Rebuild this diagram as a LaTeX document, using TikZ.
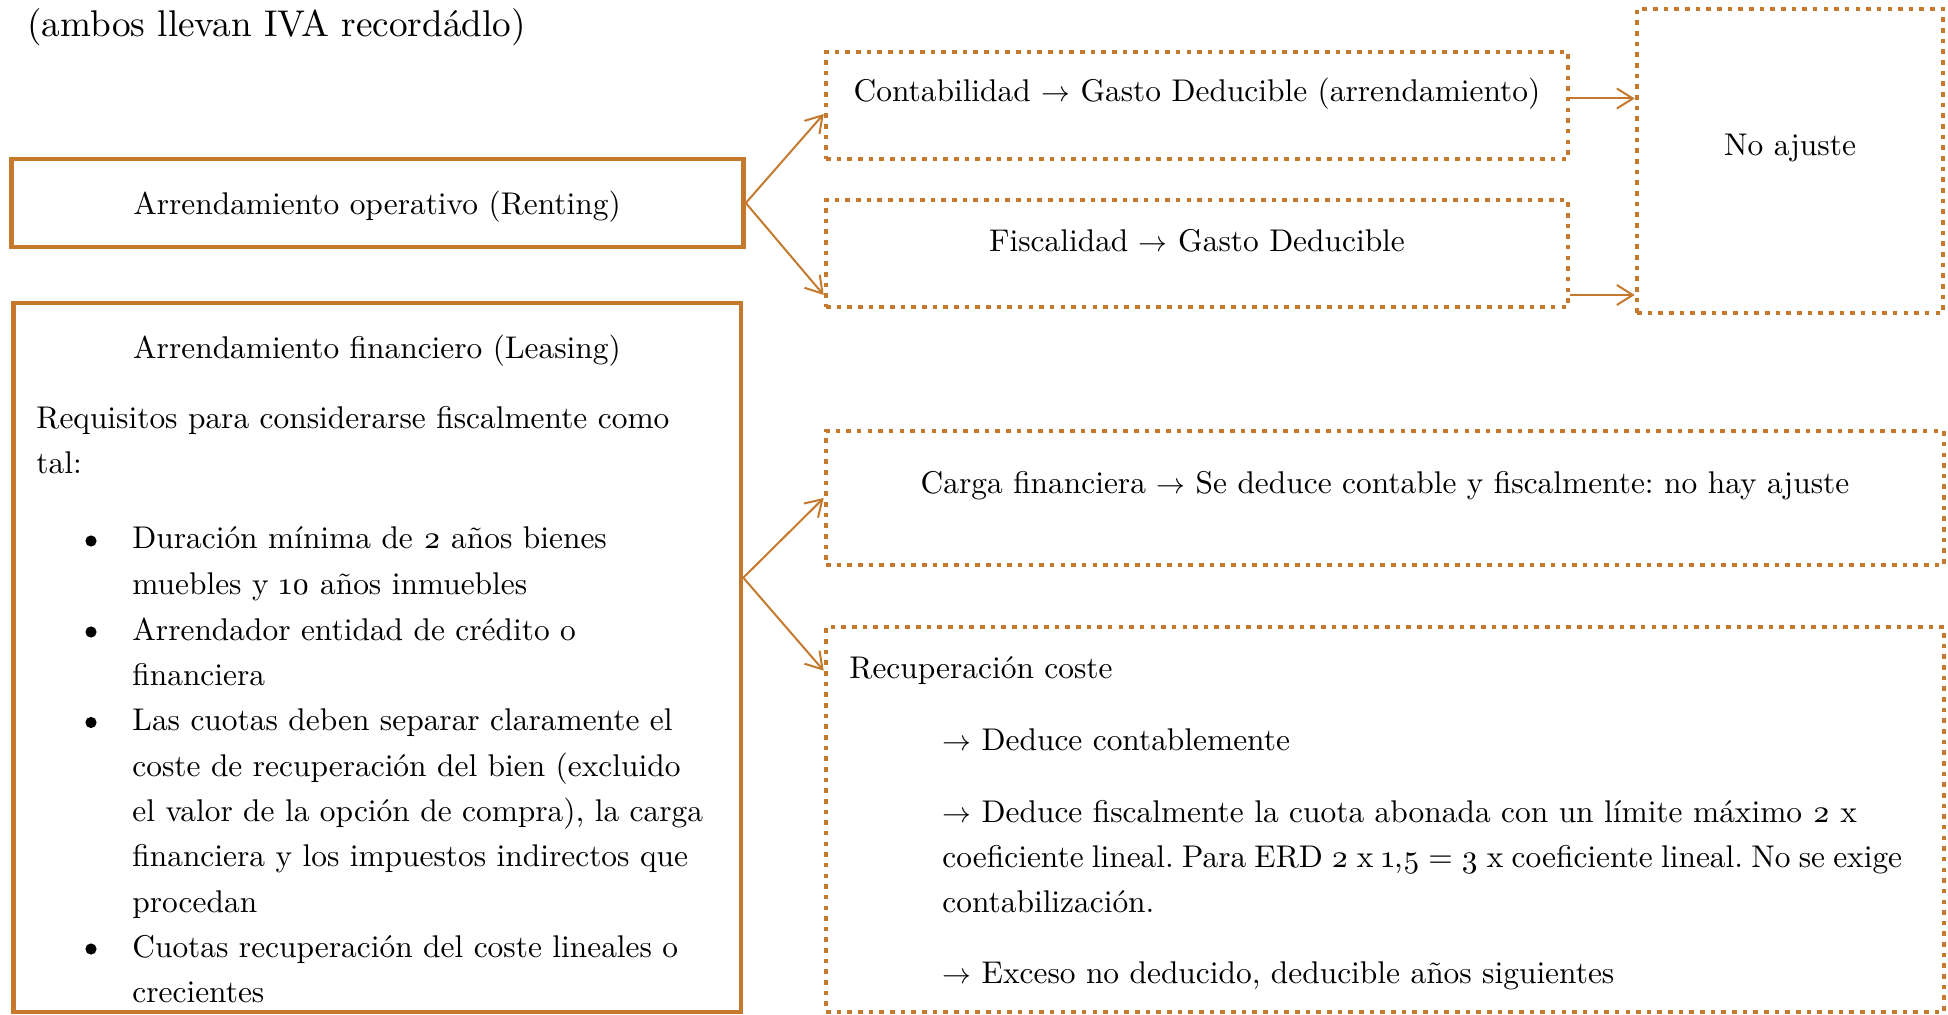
\documentclass[tikz,border=0pt]{standalone}
\usepackage{fontspec}
\setmainfont{lmroman10-regular.otf}[BoldFont=lmroman10-bold.otf, ItalicFont=lmroman10-italic.otf, Numbers=OldStyle]
\usetikzlibrary{arrows.meta,calc,fit}
\definecolor{accent}{RGB}{196,121,45}
\newcommand{\txtsize}{\fontsize{15.7}{22.7}\selectfont}
\newcommand{\headsize}{\fontsize{18.6}{22}\selectfont}
\newcommand{\tightspaces}{\spaceskip=4.1pt plus 1pt minus 1pt\relax}
\tikzset{
  solidbox/.style={draw=accent, line width=2.3pt, inner sep=0pt},
  dotbox/.style={draw=accent, line width=2.3pt, dash pattern=on 2.3pt off 3.03pt, inner sep=0pt},
  link/.style={draw=accent, line width=1pt, -{Straight Barb[length=8pt,width=10pt]}},
  txt/.style={inner sep=0pt, font=\txtsize, text=black},
  lft/.style={txt, anchor=base west},
  ctr/.style={txt, anchor=base},
  dot/.style={circle, fill=black, inner sep=0pt, minimum size=5.6pt},
}
\begin{document}
\frenchspacing
\begin{tikzpicture}[x=0.5pt,y=-0.5pt]
\useasboundingbox (0,0) rectangle (1948,1015);

% frames
\node[solidbox, fit={(11.5,159) (743.5,247)}] (rent) {};
\node[solidbox, fit={(13.5,303) (741,1012)}] (leas) {};
\node[dotbox, fit={(826,52) (1568,159)}] (cont) {};
\node[dotbox, fit={(826,200) (1568,307)}] (fisc) {};
\node[dotbox, fit={(1637,9) (1943,313)}] (noaj) {};
\node[dotbox, fit={(826,431) (1944,565)}] (carga) {};
\node[dotbox, fit={(826,627) (1944,1012)}] (recup) {};

% heading
\node[lft, font=\headsize] (title) at (27,37) {(ambos llevan IVA recordádlo)};

% operating lease
\node[ctr] (rentT) at (377,215) {Arrendamiento operativo (Renting)};

% finance lease
\node[ctr] (leasT) at (377,359) {Arrendamiento financiero (Leasing)};
\node[lft] (req1) at (36,429) {Requisitos para considerarse fiscalmente como};
\node[lft] (req2) at (36,474) {tal:};
\node[dot] (b1) at (91,541) {};
\node[dot] (b2) at (91,632) {};
\node[dot] (b3) at (91,722.5) {};
\node[dot] (b4) at (91,949) {};
\node[lft] (l1) at (132,549) {Duración mínima de 2 años bienes};
\node[lft] (l2) at (132,594.5) {muebles y 10 años inmuebles};
\node[lft] (l3) at (132,640) {Arrendador entidad de crédito o};
\node[lft] (l4) at (132,685) {financiera};
\node[lft] (l5) at (132,730.5) {Las cuotas deben separar claramente el};
\node[lft] (l6) at (132,776) {coste de recuperación del bien (excluido};
\node[lft] (l7) at (132,821) {el valor de la opción de compra), la carga};
\node[lft] (l8) at (132,866.5) {financiera y los impuestos indirectos que};
\node[lft] (l9) at (132,912) {procedan};
\node[lft] (l10) at (132,957) {Cuotas recuperación del coste lineales o};
\node[lft] (l11) at (132,1002.5) {crecientes};

% right column
\node[ctr] (contT) at (1197,102) {Contabilidad $\rightarrow$ Gasto Deducible (arrendamiento)};
\node[ctr] (fiscT) at (1197,252) {Fiscalidad $\rightarrow$ Gasto Deducible};
\node[ctr] (noajT) at (1790,156) {No ajuste};
\node[ctr] (cargaT) at (1385,494) {Carga financiera $\rightarrow$ Se deduce contable y fiscalmente: no hay ajuste};
\node[lft] (recT) at (849,678) {Recuperación coste};
\node[lft] (r1) at (942,750) {$\rightarrow$ Deduce contablemente};
\node[lft] (r2) at (942,822) {$\rightarrow$ Deduce fiscalmente la cuota abonada con un límite máximo 2 x};
\node[lft] (r3) at (942,867) {\tightspaces coeficiente lineal. Para ERD 2 x 1,5 = 3 x coeficiente lineal. No se exige};
\node[lft] (r4) at (942,912) {contabilización.};
\node[lft] (r5) at (942,983) {$\rightarrow$ Exceso no deducido, deducible años siguientes};

% connectors
\coordinate (leasOut) at ($(leas.north east)+(0,277)$);
\coordinate (contOut) at ($(cont.east)+(0,-7)$);
\coordinate (fiscOut) at ($(fisc.east)+(0,41.5)$);
\draw[link] (rent.east) -- ($(cont.west)+(0,8.5)$);
\draw[link] (rent.east) -- ($(fisc.west)+(0,41.5)$);
\draw[link] (contOut) -- (contOut -| noaj.west);
\draw[link] (fiscOut) -- (fiscOut -| noaj.west);
\draw[link] (leasOut) -- (carga.west);
\draw[link] (leasOut) -- ($(recup.north west)+(0,46)$);
\end{tikzpicture}
\end{document}
